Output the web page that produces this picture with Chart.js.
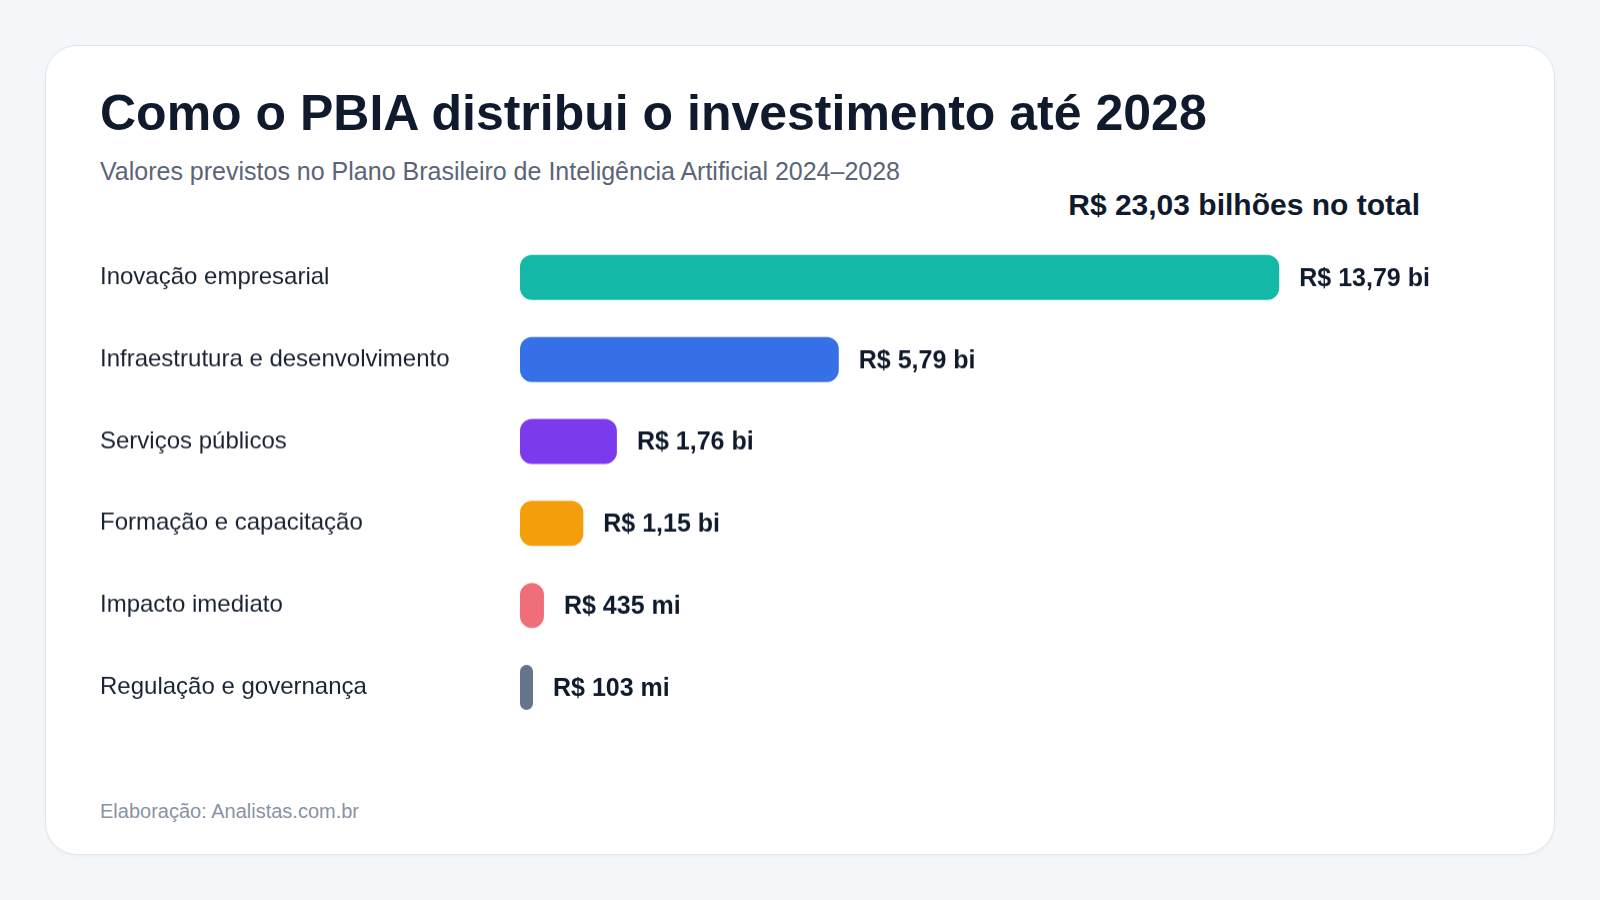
<!DOCTYPE html>
<html lang="pt-BR">
<head>
<meta charset="utf-8">
<title>PBIA – investimento até 2028</title>
<script src="https://cdn.jsdelivr.net/npm/chart.js@4.4.1/dist/chart.umd.min.js"></script>
<style>
  html, body { margin: 0; padding: 0; }
  body {
    width: 1600px;
    height: 900px;
    background: #f4f7fa;
    font-family: "Liberation Sans", Arial, Helvetica, sans-serif;
    position: relative;
    overflow: hidden;
  }
  .card {
    position: absolute;
    left: 45px;
    top: 45px;
    width: 1508px;
    height: 808px;
    background: #ffffff;
    border: 1px solid #dfe5ee;
    border-radius: 32px;
    box-shadow: 0 1px 3px rgba(15, 23, 42, 0.04);
  }
  .title {
    position: absolute;
    left: 54px;
    top: 41.5px;
    margin: 0;
    font-size: 50px;
    line-height: 1;
    font-weight: 700;
    color: #0f1b2d;
    white-space: nowrap;
  }
  .subtitle {
    position: absolute;
    left: 54px;
    top: 113px;
    margin: 0;
    font-size: 25px;
    line-height: 1;
    color: #5b6577;
    white-space: nowrap;
  }
  .total {
    position: absolute;
    right: 134px;
    top: 144px;
    font-size: 30px;
    line-height: 1;
    font-weight: 700;
    color: #0f1b2d;
    white-space: nowrap;
  }
  /* canvas grows by half a label height above and below: the y axis pads by that much */
  .chart-box {
    position: absolute;
    left: 54px;
    top: 176.4px;
    width: 1400px;
    height: 519.8px;
  }
  .source {
    position: absolute;
    left: 54px;
    top: 754.5px;
    font-size: 20px;
    line-height: 1;
    color: #8a93a3;
    white-space: nowrap;
  }
</style>
</head>
<body>
<div class="card">
  <h1 class="title">Como o PBIA distribui o investimento até 2028</h1>
  <p class="subtitle">Valores previstos no Plano Brasileiro de Inteligência Artificial 2024–2028</p>
  <div class="total" id="totalLabel"></div>
  <div class="chart-box"><canvas id="pbiaChart"></canvas></div>
  <div class="source">Elaboração: Analistas.com.br</div>
</div>

<script>
// ─── DATA (R$ bilhões) ──────────────────────────────────────────
const categories = [
  "Inovação empresarial",
  "Infraestrutura e desenvolvimento",
  "Serviços públicos",
  "Formação e capacitação",
  "Impacto imediato",
  "Regulação e governança",
];
const values = [13.79, 5.79, 1.76, 1.15, 0.435, 0.103];
const barColors = ["#14b8a6", "#3670e6", "#7c3aed", "#f59e0b", "#f06e78", "#64748b"];

// ─── FORMAT HELPERS ─────────────────────────────────────────────
function formatValue(v) {
  if (v < 1) return "R$ " + Math.round(v * 1000) + " mi";
  return "R$ " + v.toFixed(2).replace(".", ",") + " bi";
}

const total = values.reduce((sum, v) => sum + v, 0);
document.getElementById("totalLabel").textContent =
  "R$ " + total.toFixed(2).replace(".", ",") + " bilhões no total";

// ─── VALUE LABELS PLUGIN ────────────────────────────────────────
const valueLabels = {
  id: "valueLabels",
  afterDatasetsDraw(chart) {
    const { ctx } = chart;
    const meta = chart.getDatasetMeta(0);
    ctx.save();
    ctx.font = "700 25px 'Liberation Sans', Arial, sans-serif";
    ctx.fillStyle = "#0f1b2d";
    ctx.textAlign = "left";
    ctx.textBaseline = "middle";
    meta.data.forEach((bar, i) => {
      // small nudge so the cap height sits on the bar's centre line
      ctx.fillText(formatValue(values[i]), bar.x + 20, bar.y + 1.5);
    });
    ctx.restore();
  },
};

// ─── CHART ──────────────────────────────────────────────────────
Chart.defaults.font.family = "'Liberation Sans', Arial, sans-serif";

new Chart(document.getElementById("pbiaChart"), {
  type: "bar",
  data: {
    labels: categories,
    datasets: [{
      data: values,
      backgroundColor: barColors,
      borderRadius: 12,
      borderSkipped: false,
      minBarLength: 13,
      categoryPercentage: 1,
      barPercentage: 0.55,
    }],
  },
  options: {
    indexAxis: "y",
    responsive: true,
    maintainAspectRatio: false,
    animation: false,
    layout: { padding: 0 },
    plugins: {
      legend: { display: false },
      tooltip: { enabled: false },
    },
    scales: {
      x: {
        display: false,
        min: 0,
        max: 17.8,
      },
      y: {
        grid: { display: false },
        border: { display: false },
        ticks: {
          crossAlign: "far",
          color: "#1a2333",
          font: { size: 24 },
          padding: 0,
        },
        afterFit(scale) {
          scale.width = 420;
        },
      },
    },
  },
  plugins: [valueLabels],
});
</script>
</body>
</html>
